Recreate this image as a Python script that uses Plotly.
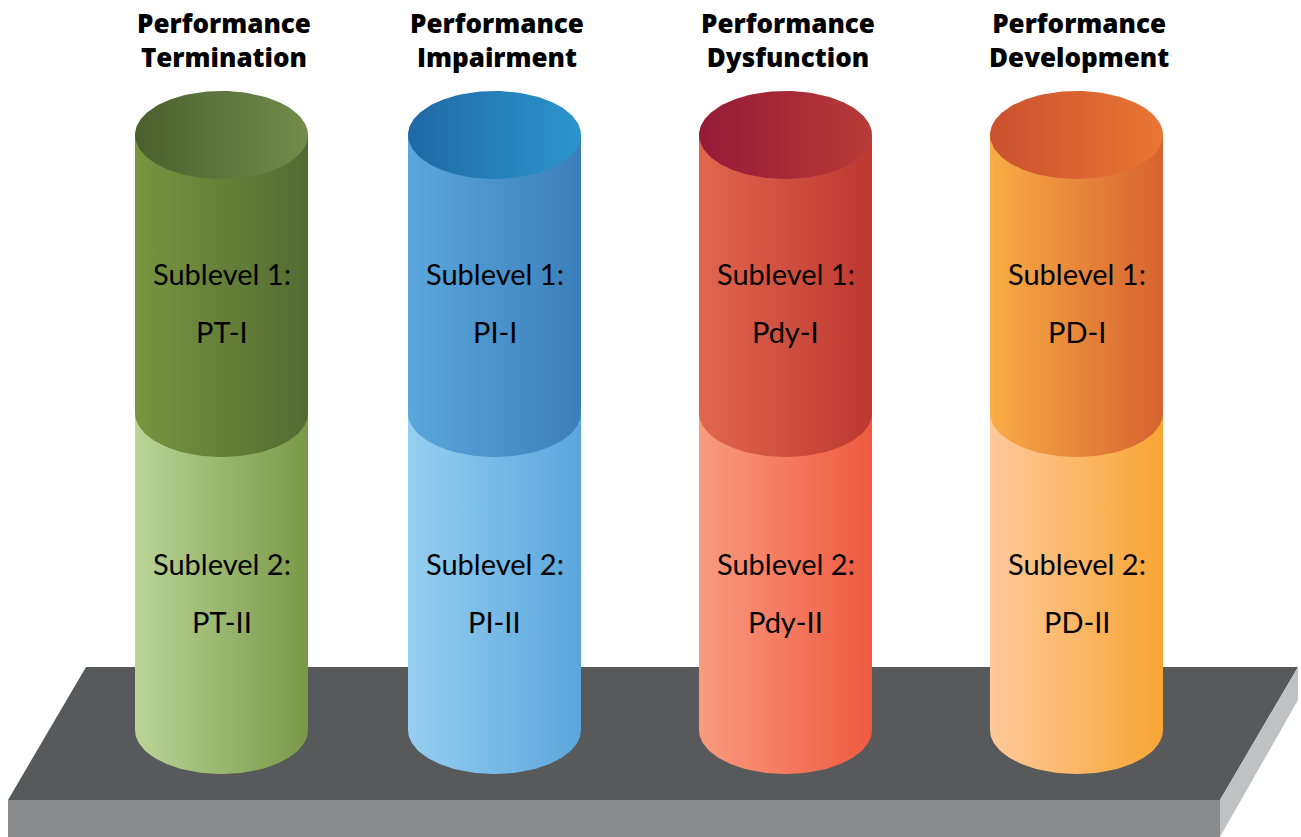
import numpy as np
import plotly.graph_objects as go

# ---- data ----
categories = ["Performance<br>Termination", "Performance<br>Impairment",
              "Performance<br>Dysfunction", "Performance<br>Development"]
sublevel1_codes = ["PT-I", "PI-I", "Pdy-I", "PD-I"]
sublevel2_codes = ["PT-II", "PI-II", "Pdy-II", "PD-II"]
sublevel1_label = "Sublevel 1:"
sublevel2_label = "Sublevel 2:"

# colours: (top ellipse left,right), (upper body left,right), (lower body left,right)
top_colors = [("#4a5f2e", "#728c4a"), ("#1f69a5", "#2c95cd"),
              ("#951a37", "#b73b36"), ("#c9512f", "#e97633")]
upper_colors = [("#789540", "#536b32"), ("#5ba7dd", "#3b7fba"),
                ("#e0674f", "#bd3830"), ("#f8ad45", "#d6622f")]
lower_colors = [("#bad497", "#799947"), ("#95cff0", "#5aa6dc"),
                ("#f89b80", "#ef5a3f"), ("#fdc99b", "#f8a534")]

# ---- geometry (pixel space) ----
W, H = 1301, 837
centers = [221.5, 494.5, 785.5, 1076.5]
half_w = 86.5
ry = 44
y_top, y_mid, y_bot = 135, 413, 730

fig = go.Figure()

def poly(xs, ys, color=None, grad=None):
    kw = dict(x=list(xs) + [xs[0]], y=list(ys) + [ys[0]], mode="lines",
              fill="toself", line=dict(width=0), hoverinfo="skip", showlegend=False)
    if grad:
        kw["fillgradient"] = dict(type="horizontal",
                                  colorscale=[[0, grad[0]], [1, grad[1]]])
        kw["fillcolor"] = grad[0]
    else:
        kw["fillcolor"] = color
    fig.add_trace(go.Scatter(**kw))

# platform
poly([86, 1298, 1220, 8], [667, 667, 800, 800], color="#58595b")
poly([8, 1220, 1220, 8], [800, 800, 837, 837], color="#8a8b8d")
poly([1220, 1298, 1298, 1220], [800, 667, 700, 837], color="#c0c1c3")

t = np.linspace(0, np.pi, 80)
t_full = np.linspace(0, 2 * np.pi, 160)

def body(cx, ya, yb, grad):
    xs = [cx - half_w, cx + half_w]
    ys = [ya, ya]
    xs += list(cx + half_w * np.cos(t))
    ys += list(yb + ry * np.sin(t))
    poly(xs, ys, grad=grad)

title_font = dict(family="Open Sans", size=26, weight=800, color="#000000")
sub_font = dict(family="Lato", size=29, color="#000000")

for i, cx in enumerate(centers):
    body(cx, y_mid, y_bot, lower_colors[i])
    body(cx, y_top, y_mid, upper_colors[i])
    poly(cx + half_w * np.cos(t_full), y_top + ry * np.sin(t_full), grad=top_colors[i])

    fig.add_annotation(x=cx + 2, y=40, text=categories[i], showarrow=False,
                       xref="x", yref="y", font=title_font, borderpad=0)
    for yy, txt in [(273, sublevel1_label), (331, sublevel1_codes[i]),
                    (563, sublevel2_label), (621, sublevel2_codes[i])]:
        fig.add_annotation(x=cx, y=yy, text=txt, showarrow=False,
                           xref="x", yref="y", font=sub_font)

fig.update_layout(
    width=W, height=H, margin=dict(l=0, r=0, t=0, b=0),
    paper_bgcolor="white", plot_bgcolor="white",
    xaxis=dict(range=[0, W], visible=False, fixedrange=True),
    yaxis=dict(range=[H, 0], visible=False, fixedrange=True),
)
fig.write_html("out.html", config={"displayModeBar": False},
               post_script="document.body.style.margin='0px';document.body.style.overflow='hidden';")
